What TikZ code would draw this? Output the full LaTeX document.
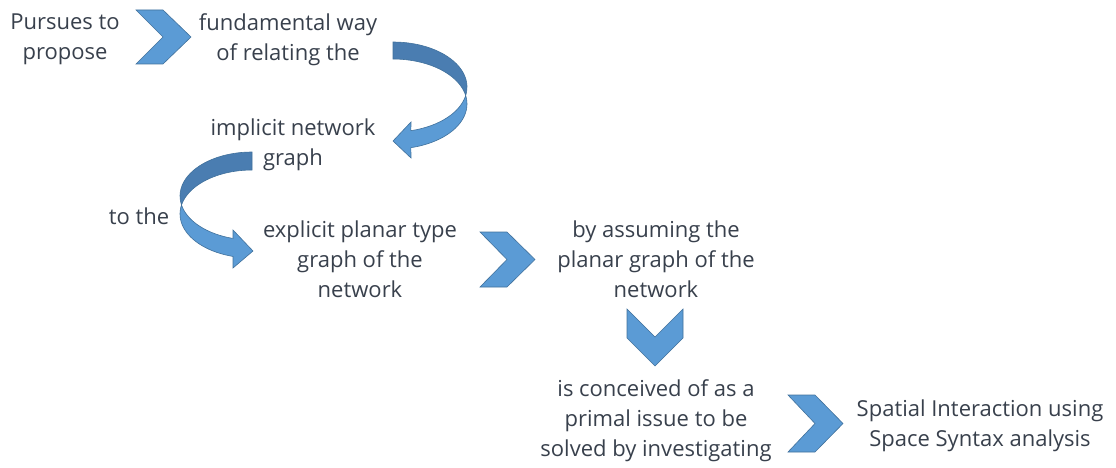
\documentclass[tikz,border=0pt]{standalone}
\usepackage{fontspec}
\setmainfont{Open Sans}
\newlength{\du}
\setlength{\du}{1pt}
\definecolor{chevfill}{RGB}{91,155,213}
\definecolor{chevline}{RGB}{65,113,156}
\definecolor{banddark}{RGB}{74,125,177}
\definecolor{txtgrey}{RGB}{56,64,76}
\tikzset{
  flowtext/.style={align=center, text=txtgrey, inner sep=0pt,
    font=\fontsize{22}{30}\selectfont},
  chevron/.style={fill=chevfill, draw=chevline, line width=0.6\du, line join=miter},
  bandback/.style={fill=banddark, draw=chevline, line width=0.6\du},
  bandfront/.style={fill=chevfill, draw=chevline, line width=0.6\du}
}
\begin{document}
\begin{tikzpicture}
\pgftransformxscale{1.000000}
\pgftransformyscale{-1.000000}
\useasboundingbox (0\du,0\du) rectangle (1116\du,468\du);
% texts
\node[flowtext] (pursues) at (65\du,39\du){Pursues to\\propose};
\node[flowtext] (relating) at (288\du,40\du){fundamental way\\of relating the};
\node[flowtext] (implicit) at (293\du,145\du){implicit network\\graph};
\node[flowtext] (tothe) at (139\du,216\du){to the};
\node[flowtext] (explicit) at (360\du,259\du){explicit planar type\\graph of the\\network};
\node[flowtext] (assuming) at (656\du,259\du){by assuming the\\planar graph of the\\network};
\node[flowtext] (conceived) at (656\du,421\du){is conceived of as a\\primal issue to be\\solved by investigating};
\node[flowtext] (syntax) at (980\du,426\du){Spatial Interaction using\\Space Syntax analysis};
% chevrons
\filldraw[chevron] (136\du,10\du)--(163\du,10\du)--(191\du,37\du)--(163\du,64\du)--(136\du,64\du)--(163\du,37\du)--cycle;
\filldraw[chevron] (480\du,232\du)--(507\du,232\du)--(535\du,259.5\du)--(507\du,287\du)--(480\du,287\du)--(507\du,259.5\du)--cycle;
\filldraw[chevron] (788\du,395\du)--(815\du,395\du)--(843\du,423.5\du)--(815\du,452\du)--(788\du,452\du)--(815\du,423.5\du)--cycle;
\filldraw[chevron] (627\du,309\du)--(655\du,337\du)--(683\du,309\du)--(683\du,338\du)--(655\du,366\du)--(627\du,338\du)--cycle;
% curved arrow, right bend
\filldraw[bandback] plot[domain=-90:10.9,variable=\t,smooth] ({393\du+74\du*cos(\t)},{87\du+45\du*sin(\t)})
  -- plot[domain=-10.9:-90,variable=\t,smooth] ({393\du+74\du*cos(\t)},{104\du+45\du*sin(\t)}) -- cycle;
\filldraw[bandfront] plot[domain=-10.9:76,variable=\t,smooth] ({393\du+74\du*cos(\t)},{104\du+45\du*sin(\t)})
  -- (411\du,158\du) -- (393\du,141\du) -- (411\du,122\du)
  -- plot[domain=76:10.9,variable=\t,smooth] ({393\du+74\du*cos(\t)},{87\du+45\du*sin(\t)}) -- cycle;
% curved arrow, left bend
\filldraw[bandback] plot[domain=-90:11.8,variable=\t,smooth] ({252\du-72\du*cos(\t)},{196\du+44\du*sin(\t)})
  -- plot[domain=-11.8:-90,variable=\t,smooth] ({252\du-72\du*cos(\t)},{214\du+44\du*sin(\t)}) -- cycle;
\filldraw[bandfront] plot[domain=-11.8:74.7,variable=\t,smooth] ({252\du-72\du*cos(\t)},{214\du+44\du*sin(\t)})
  -- (233\du,268\du) -- (253\du,251\du) -- (233\du,230\du)
  -- plot[domain=74.7:11.8,variable=\t,smooth] ({252\du-72\du*cos(\t)},{196\du+44\du*sin(\t)}) -- cycle;
\end{tikzpicture}
\end{document}
